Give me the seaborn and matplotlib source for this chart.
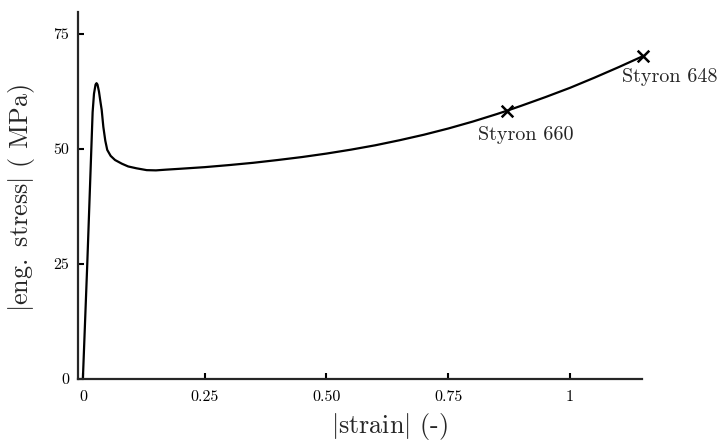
import numpy as np
import pandas as pd
import matplotlib
matplotlib.use("Agg")
import matplotlib.pyplot as plt
import seaborn as sns

# data
strain = [0.0, 0.009, 0.018, 0.020, 0.0228, 0.026, 0.028, 0.030, 0.033, 0.036, 0.0386,
          0.042, 0.046, 0.050, 0.057, 0.066, 0.080, 0.093, 0.110, 0.131, 0.150, 0.170,
          0.20, 0.25, 0.30, 0.35, 0.40, 0.45, 0.50, 0.55, 0.60, 0.65, 0.70, 0.75,
          0.80, 0.85, 0.87, 0.90, 0.95, 1.00, 1.05, 1.10, 1.15]
stress = [0.0, 25.0, 52.0, 58.0, 62.0, 64.0, 64.3, 64.0, 62.5, 60.3, 58.5,
          54.8, 51.8, 49.8, 48.5, 47.6, 46.8, 46.2, 45.8, 45.4, 45.35, 45.5,
          45.7, 46.05, 46.5, 47.0, 47.6, 48.25, 49.0, 49.85, 50.8, 51.9, 53.1, 54.45,
          55.95, 57.6, 58.3, 59.4, 61.3, 63.3, 65.5, 67.8, 70.2]
grade_names = ["Styron 660", "Styron 648"]
grade_strain = [0.87, 1.15]
grade_stress = [58.3, 70.3]
xtick_vals = [0, 0.25, 0.5, 0.75, 1]
xtick_labels = ["0", "0.25", "0.50", "0.75", "1"]
ytick_vals = [0, 25, 50, 75]
ytick_labels = ["0", "25", "50", "75"]

sns.set_style("ticks")
plt.rcParams["font.family"] = ["serif"]
plt.rcParams["font.serif"] = ["cmr10", "DejaVu Serif"]
plt.rcParams["mathtext.fontset"] = "cm"
plt.rcParams["axes.unicode_minus"] = False
plt.rcParams["axes.formatter.use_mathtext"] = True

fig = plt.figure(figsize=(7.21, 4.41), dpi=100)
ax = fig.add_axes([0.1086, 0.1406, 0.7814, 0.8314])

curve = pd.DataFrame({"strain": strain, "stress": stress})
sns.lineplot(data=curve, x="strain", y="stress", color="black", linewidth=1.6,
             sort=False, ax=ax, clip_on=False)
pts = pd.DataFrame({"strain": grade_strain, "stress": grade_stress, "name": grade_names})
sns.scatterplot(data=pts, x="strain", y="stress", marker="x", color="black", s=70,
                linewidth=1.8, ax=ax, clip_on=False, zorder=5)
offsets = [(14, -11), (19, -9)]
for n, xs, ys, off in zip(grade_names, grade_strain, grade_stress, offsets):
    ax.annotate(n, (xs, ys), xytext=off, textcoords="offset points",
                ha="center", va="top", fontsize=14.5, annotation_clip=False)

ax.set_xlim(-0.0094, 1.147)
ax.set_ylim(0, 79.7)
ax.set_xticks(xtick_vals, xtick_labels)
ax.set_yticks(ytick_vals, ytick_labels)
ax.tick_params(direction="in", length=4.5, width=1.5, labelsize=11.5, colors="black")
ax.tick_params(axis="x", pad=8)
ax.tick_params(axis="y", pad=6.5)
for s in ["top", "right"]:
    ax.spines[s].set_visible(False)
for s in ["left", "bottom"]:
    ax.spines[s].set_linewidth(1.6)
ax.set_xlabel(r"$|\mathrm{strain}|$ (-)", fontsize=18.8)
ax.set_ylabel(r"$|\mathrm{eng.\ stress}|$ ( MPa)", fontsize=18.8)
ax.xaxis.set_label_coords(0.5515, -0.086, transform=ax.transAxes)
ax.xaxis.label.set_va("top")
ax.yaxis.set_label_coords(-0.0733, 0.492, transform=ax.transAxes)

fig.savefig("out.png", dpi=100)
